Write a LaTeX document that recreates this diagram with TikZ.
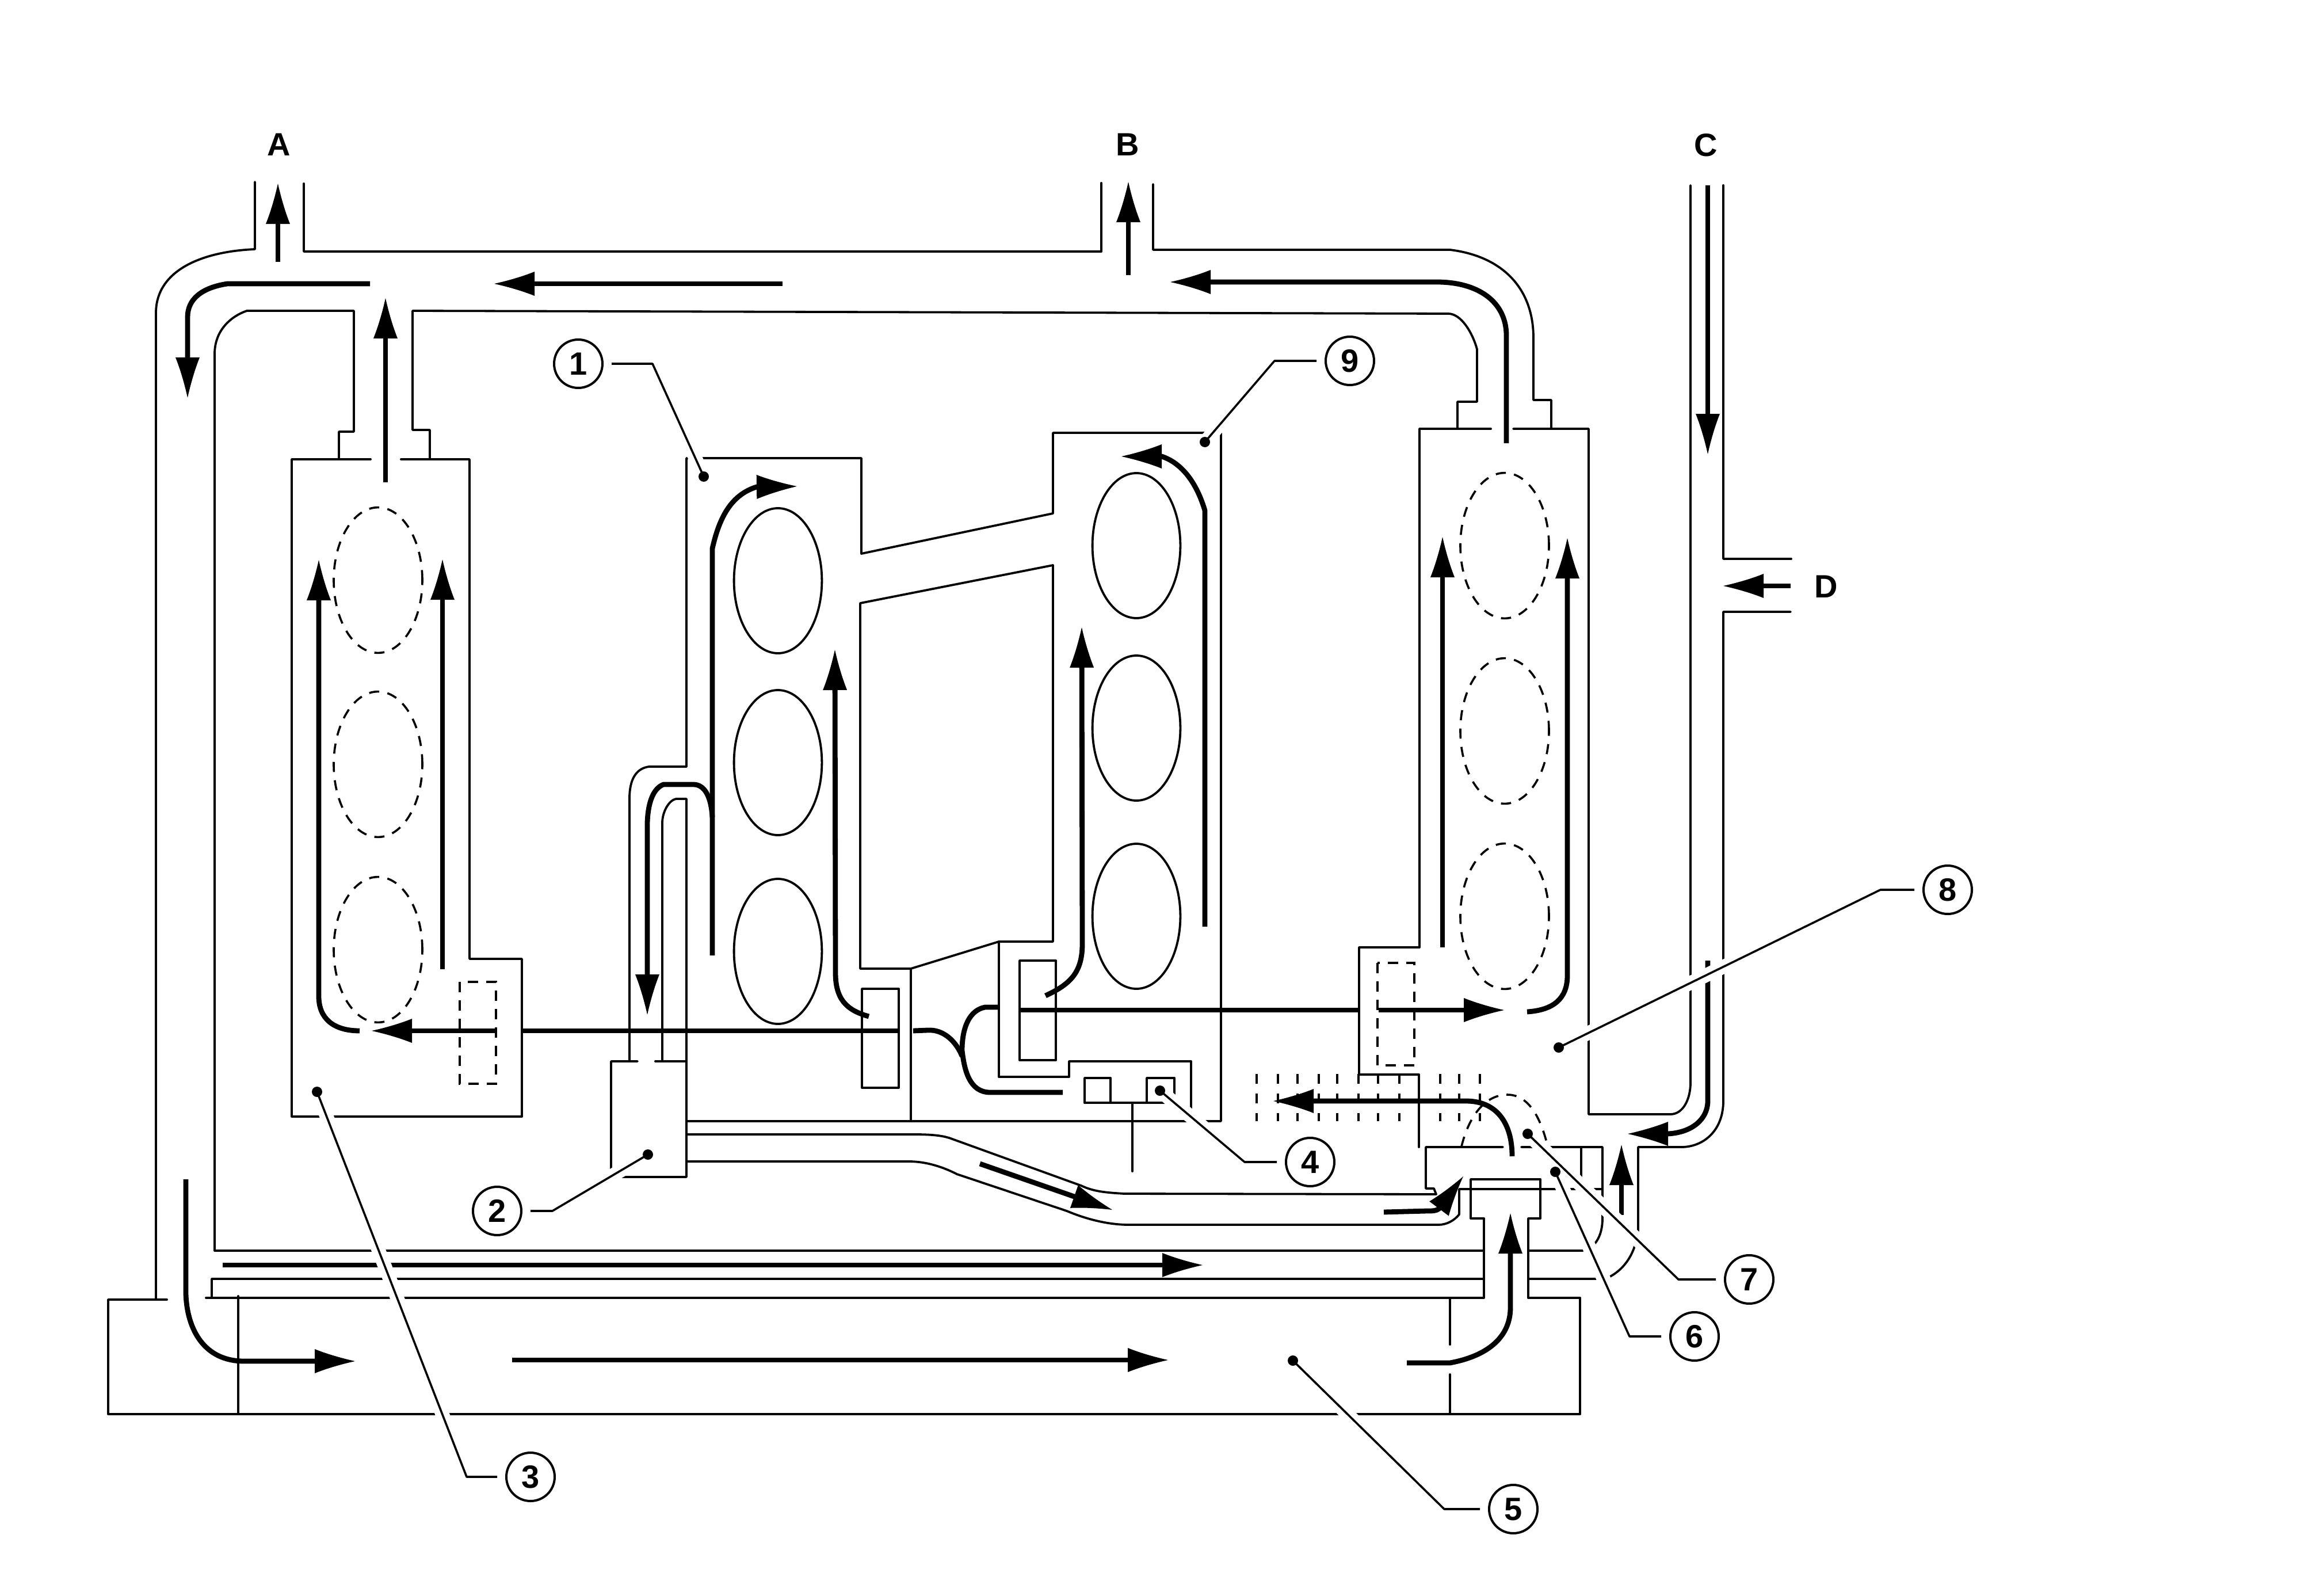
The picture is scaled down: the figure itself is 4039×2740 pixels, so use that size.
\documentclass[tikz,border=0pt]{standalone}
\usepackage{fontspec}
\setmainfont{Liberation Sans}
\usetikzlibrary{arrows.meta}
\pgfdeclarearrow{
  name=Spike,
  defaults={length=17.5pt,width=10.5pt},
  parameters={\the\pgfarrowlength,\the\pgfarrowwidth},
  setup code={
    \pgfarrowssettipend{0pt}
    \pgfarrowssetlineend{-.8\pgfarrowlength}
    \pgfarrowssetbackend{-\pgfarrowlength}
    \pgfarrowssetvisualbackend{-.9\pgfarrowlength}
    \pgfarrowshullpoint{0pt}{0pt}
    \pgfarrowsupperhullpoint{-\pgfarrowlength}{.5\pgfarrowwidth}
  },
  drawing code={
    \pgfpathmoveto{\pgfqpoint{0pt}{0pt}}
    \pgfpathcurveto{\pgfqpoint{-.35\pgfarrowlength}{.13\pgfarrowwidth}}{\pgfqpoint{-.7\pgfarrowlength}{.3\pgfarrowwidth}}{\pgfqpoint{-\pgfarrowlength}{.5\pgfarrowwidth}}
    \pgfpathlineto{\pgfqpoint{-\pgfarrowlength}{-.5\pgfarrowwidth}}
    \pgfpathcurveto{\pgfqpoint{-.7\pgfarrowlength}{-.3\pgfarrowwidth}}{\pgfqpoint{-.35\pgfarrowlength}{-.13\pgfarrowwidth}}{\pgfqpoint{0pt}{0pt}}
    \pgfpathclose
    \pgfusepathqfill
  }
}
\tikzset{
  wall/.style={line width=.95pt,line join=round,line cap=round},
  flow/.style={line width=2.2pt,line join=round},
  flowtip/.style={flow,-{Spike}},
  dashedwall/.style={line width=.9pt,dash pattern=on 4.4pt off 3.6pt},
  gridcol/.style={line width=1.1pt,dash pattern=on 4.25pt off 4.25pt},
  halo/.style={draw=white,line width=6pt},
  leaderline/.style={line width=.9pt,line join=round},
  numcircle/.style={circle,draw,line width=1pt,minimum size=21pt,inner sep=0pt,outer sep=4pt,font=\fontsize{14}{14}\selectfont\bfseries},
  letter/.style={inner sep=0pt,font=\fontsize{14}{14}\selectfont\bfseries},
  dotnode/.style={circle,fill=black,inner sep=0pt,minimum size=4.5pt},
}
\begin{document}
\begin{tikzpicture}[x=.25pt,y=-.25pt]
\useasboundingbox (0,0) rectangle (4039,2740);
\fill[white] (0,0) rectangle (4039,2740);

% ---- letters
\node[letter] (la) at (485,251) {A};
\node[letter] (lb) at (1960,251) {B};
\node[letter] (lc) at (2965,252) {C};
\node[letter] (ld) at (3174,1019) {D};

% ---- outer pipes
\draw[wall] (443,316) -- (443,433) .. controls (350,437) and (271,470) .. (271,544) -- (271,2258);
\draw[wall] (290,2258) -- (188,2258) -- (188,2457) -- (2746,2457) -- (2746,2255) -- (2656,2255) -- (2656,2117) -- (2677,2117) -- (2677,2049) -- (2556,2049) -- (2556,2117) -- (2579,2117) -- (2579,2255) -- (358,2255);
\draw[wall] (528,319) -- (528,437) -- (1914,437) -- (1914,318);
\draw[wall] (2004,320) -- (2004,434) -- (2520,434) .. controls (2610,445) and (2665,500) .. (2665,587) -- (2665,695) -- (2696,695) -- (2696,745);
\draw[wall] (373,2173) -- (373,615) .. controls (373,575) and (400,550) .. (429,540) -- (615,540) -- (615,750) -- (589,750) -- (589,798);
\draw[wall] (747,798) -- (747,747) -- (717,747) -- (717,540) -- (2517,545) .. controls (2540,545) and (2560,580) .. (2567,607) -- (2567,698) -- (2533,698) -- (2533,745);

% ---- manifolds
\draw[wall] (644,798) -- (507,798) -- (507,1940) -- (907,1940) -- (907,1666) -- (816,1666) -- (816,798) -- (697,798);
\draw[wall] (2591,745) -- (2467,745) -- (2467,1646) -- (2362,1646) -- (2362,1867) -- (2466,1867) -- (2466,1993);
\draw[wall] (2630,745) -- (2761,745) -- (2761,1936) -- (2903,1936) .. controls (2925,1936) and (2938,1910) .. (2938,1881) -- (2938,322);
\draw[wall] (2995,322) -- (2995,971) -- (3113,971);
\draw[wall] (3112,1063) -- (2995,1063) -- (2995,1913) .. controls (2995,1965) and (2960,1993) .. (2922,1993) -- (2847,1993) -- (2847,2137) .. controls (2843,2175) and (2825,2207) .. (2790,2222) -- (2656,2222);
\draw[wall] (2656,2173) -- (2750,2173) .. controls (2770,2170) and (2785,2150) .. (2785,2117) -- (2785,1993) -- (2644,1993);
\draw[wall] (2612,1993) -- (2478,1993) -- (2478,2065) -- (2492,2065) -- (2496,2075) -- (1954,2074) .. controls (1920,2072) and (1900,2070) .. (1879,2060) -- (1655,1979) .. controls (1640,1973) and (1620,1971) .. (1589,1971) -- (1193,1971);
\draw[wall] (1193,2018) -- (1580,2018) .. controls (1610,2018) and (1640,2028) .. (1663,2040) -- (1854,2104) .. controls (1880,2115) and (1920,2128) .. (1962,2128) -- (2500,2128) .. controls (2515,2128) and (2528,2120) .. (2536,2110) -- (2536,2066) -- (2785,2066);
\draw[wall] (2748,1993) -- (2748,2066);
\draw[wall] (373,2173) -- (2579,2173);
\draw[wall] (368,2255) -- (368,2222) -- (2579,2222);
\draw[wall] (414,2252) -- (414,2457);
\draw[wall] (2520,2255) -- (2520,2336);
\draw[wall] (2520,2388) -- (2520,2457);

% ---- centre block
\draw[wall] (1193,1332) -- (1193,796) -- (1497,796) -- (1497,962) -- (1830,892) -- (1830,752) -- (2122,752) -- (2122,1948) -- (1193,1948);
\draw[wall] (1193,1332) -- (1128,1332) .. controls (1105,1335) and (1094,1355) .. (1094,1387) -- (1094,1844);
\draw[wall] (1151,1844) -- (1151,1430) .. controls (1151,1410) and (1163,1390) .. (1175,1388) -- (1193,1388) -- (1193,2045) -- (1062,2045) -- (1062,1844) -- (1108,1844);
\draw[wall] (1139,1844) -- (1193,1844);
\draw[wall] (1495,1683) -- (1495,1048) -- (1830,982) -- (1830,1636) -- (1736,1636) -- (1583,1683) -- cycle;
\draw[wall] (1583,1683) -- (1583,1948);
\draw[wall] (1736,1636) -- (1736,1871) -- (1858,1871) -- (1858,1844) -- (2070,1844) -- (2070,1948);
\draw[wall] (1498,1718) rectangle (1562,1890);
\draw[wall] (1772,1669) rectangle (1835,1842);
\draw[wall] (1885,1873) rectangle (1930,1916);
\draw[wall] (1993,1916) -- (1993,1873) -- (2041,1873) -- (2041,1916);
\draw[wall] (1885,1916) -- (2041,1916);
\draw[wall] (1968,1916) -- (1968,2035);

% ---- cylinders
\foreach \cx/\cy in {1352/1009,1352/1325,1352/1653,1975/948,1975/1265,1975/1592}
  \draw[wall] (\cx,\cy) ellipse [x radius=19.1pt,y radius=31.5pt];
\foreach \cx/\cy in {657/1008,657/1328,657/1650,2615/948,2615/1270,2615/1592}
  \draw[dashedwall] (\cx,\cy) ellipse [x radius=19.25pt,y radius=31.6pt];
\draw[dashedwall] (799,1706) rectangle (862,1883);
\draw[dashedwall] (2394,1673) rectangle (2458,1851);
\draw[dashedwall] (2540,1992) .. controls (2550,1950) and (2575,1902) .. (2620,1902) .. controls (2660,1902) and (2680,1950) .. (2690,1993);
\foreach \gx in {2184,2221,2255,2292,2324,2361,2395,2432,2503,2536,2572}
  \draw[gridcol] (\gx,1866) -- (\gx,1948);

% ---- flow arrows
\draw[flowtip] (483,455) -- (483,319);
\draw[flowtip] (643,493) -- (395,493) .. controls (350,500) and (326,520) .. (326,551) -- (326,691);
\draw[flowtip] (670,838) -- (670,518);
\draw[flowtip] (1360,493) -- (859,493);
\draw[flowtip] (1961,478) -- (1961,316);
\draw[flowtip] (2618,770) -- (2618,583) .. controls (2618,525) and (2570,490) .. (2497,490) -- (2034,490);
\draw[flowtip] (625,1791) .. controls (580,1791) and (554,1770) .. (554,1731) -- (554,973);
\draw[flowtip] (769,1684) -- (769,972);
\draw[flowtip] (861,1791) -- (646,1791);
\draw[flow] (1562,1791) -- (907,1791);
\draw[flow] (1587,1791) -- (1612,1790) .. controls (1640,1788) and (1662,1810) .. (1672,1835);
\draw[flow] (1736,1750) -- (1712,1750) .. controls (1685,1755) and (1672,1785) .. (1672,1825) .. controls (1676,1860) and (1685,1898) .. (1721,1898) -- (1847,1898);
\draw[flow] (1772,1755) -- (2362,1755);
\draw[flowtip] (2396,1755) -- (2614,1755);
\draw[flowtip] (2654,1758) .. controls (2700,1755) and (2724,1735) .. (2724,1695) -- (2724,935);
\draw[flowtip] (2507,1646) -- (2507,933);
\draw[flowtip] (2968,322) -- (2968,789);
\draw[flowtip] (2968,1669) -- (2968,1913) .. controls (2968,1945) and (2940,1968) .. (2898,1970) -- (2829,1970);
\draw[flowtip] (3112,1018) -- (2995,1018);
\draw[flowtip] (2818,2111) -- (2818,1989);
\draw[flowtip] (2445,2368) -- (2520,2368) .. controls (2590,2355) and (2625,2320) .. (2625,2272) -- (2625,2108);
\draw[flowtip] (323,2049) -- (323,2248) .. controls (325,2310) and (355,2365) .. (424,2365) -- (617,2365);
\draw[flowtip] (890,2363) -- (2030,2363);
\draw[flowtip] (387,2198) -- (2090,2198);
\draw[flowtip] (1238,1660) -- (1238,953) .. controls (1250,900) and (1270,860) .. (1315,846) -- (1385,845);
\draw[flowtip] (1510,1766) .. controls (1470,1755) and (1452,1735) .. (1452,1690) -- (1451,1129);
\draw[flowtip] (1817,1730) .. controls (1860,1710) and (1881,1690) .. (1881,1640) -- (1880,1090);
\draw[flowtip] (2094,1610) -- (2094,887) .. controls (2080,840) and (2055,805) .. (2019,793) -- (1949,793);
\draw[flowtip] (1238,1420) .. controls (1236,1385) and (1225,1363) .. (1205,1363) -- (1153,1363) .. controls (1135,1370) and (1126,1395) .. (1125,1430) -- (1125,1763);
\draw[flowtip] (1703,2022) -- (1933,2102);
\draw[flowtip] (2405,2106) -- (2480,2104) .. controls (2490,2104) and (2496,2104) .. (2501,2100) -- (2543,2044);
\draw[flowtip] (2628,2009) .. controls (2628,1950) and (2600,1913) .. (2548,1913) -- (2213,1913);

% ---- callouts
\node[numcircle] (c1) at (1005,632) {1};
\node[numcircle] (c2) at (864,2104) {2};
\node[numcircle] (c3) at (922,2566) {3};
\node[numcircle] (c4) at (2277,2019) {4};
\node[numcircle] (c5) at (2630,2622) {5};
\node[numcircle] (c6) at (2945,2322) {6};
\node[numcircle] (c7) at (3040,2223) {7};
\node[numcircle] (c8) at (3385,1546) {8};
\node[numcircle] (c9) at (2346,627) {9};
\coordinate (e1) at (1134,632);  \coordinate (d1) at (1223,828);
\coordinate (e2) at (960,2104);  \coordinate (d2) at (1126,2006);
\coordinate (e3) at (811,2566);  \coordinate (d3) at (551,1897);
\coordinate (e4) at (2163,2019); \coordinate (d4) at (2016,1895);
\coordinate (e5) at (2510,2622); \coordinate (d5) at (2247,2364);
\coordinate (e6) at (2832,2322); \coordinate (d6) at (2703,2036);
\coordinate (e7) at (2917,2223); \coordinate (d7) at (2655,1970);
\coordinate (e8) at (3268,1546); \coordinate (d8) at (2709,1820);
\coordinate (e9) at (2215,627);  \coordinate (d9) at (2094,768);
\foreach \n/\a in {1/east,2/east,3/west,4/west,5/west,6/west,7/west,8/west,9/west}
  \draw[halo] (c\n.\a) -- (e\n) -- (d\n);
\foreach \n/\a in {1/east,2/east,3/west,4/west,5/west,6/west,7/west,8/west,9/west}{
  \draw[leaderline] (c\n.\a) -- (e\n) -- (d\n);
  \node[dotnode] (dot\n) at (d\n) {};
}
\end{tikzpicture}
\end{document}
